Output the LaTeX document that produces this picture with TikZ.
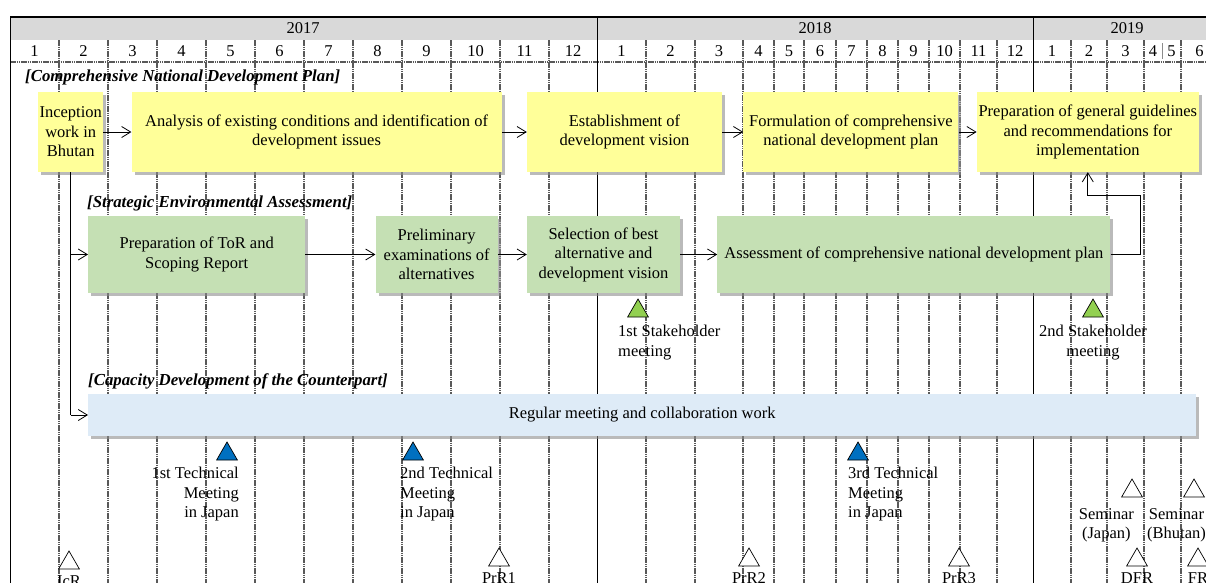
\documentclass[tikz,border=0pt]{standalone}
\usepackage{fontspec}
\setmainfont{Liberation Serif}
\usetikzlibrary{arrows.meta,positioning,shapes.geometric,shadows}

\definecolor{boxyellow}{HTML}{FFFF99}
\definecolor{boxgreen}{HTML}{C5E0B4}
\definecolor{boxblue}{HTML}{DEEBF7}
\definecolor{hdgray}{HTML}{D9D9D9}
\definecolor{trigreen}{HTML}{92D050}
\definecolor{triblue}{HTML}{0070C0}

\begin{document}
\begin{tikzpicture}[
    x=1pt, y=-1pt,
    every node/.style={font=\fontsize{16.5}{19.5}\selectfont},
    mline/.style={draw=black!65, line width=1.4pt, dash pattern=on 1.6pt off 0.6pt},
    yline/.style={draw=black, line width=1pt},
    sect/.style={anchor=west, inner sep=0pt, font=\fontsize{16.8}{19.5}\selectfont\bfseries\itshape},
    task/.style={rectangle, align=center, inner xsep=1pt, minimum height=80pt,
        drop shadow={shadow xshift=3pt, shadow yshift=-3pt, fill=black!45, opacity=0.6}},
    plan/.style={task, fill=boxyellow},
    sea/.style={task, fill=boxgreen, minimum height=77pt},
    capbox/.style={task, fill=boxblue, minimum height=42pt},
    tri/.style={regular polygon, regular polygon sides=3, minimum size=24pt, inner sep=0pt, outer sep=0pt, draw=black, line width=0.7pt},
    tlab/.style={inner sep=0pt},
    arr/.style={-{Straight Barb[length=9pt, width=11pt]}, line width=0.8pt},
]
    \path[use as bounding box, clip] (0,0) rectangle (1206,582);

    % time axis
    \fill[hdgray] (10,17) rectangle (1240,40);
    \foreach \x in {59,108,157,206,255,304,353,402,451,500,549,646,695,743,774,804,836,867,898,929,960,997,1071,1107,1144,1181,1218}
        \draw[mline] (\x,40) -- (\x,600);
    \draw[mline] (10,62) -- (1240,62);
    \draw[black!45, line width=1pt] (1162,43) -- (1162,59);
    \draw[yline] (597,17) -- (597,600);
    \draw[yline] (1033,17) -- (1033,600);
    \draw[yline] (10,17) -- (10,600);
    \draw[line width=1.6pt] (10,17) -- (1240,17);

    \node (y17) at (303,28.5) {2017};
    \node (y18) at (815,28.5) {2018};
    \node (y19) at (1127,28.5) {2019};
    \foreach \x/\m [count=\i] in {34.5/1,83.5/2,132.5/3,181.5/4,230.5/5,279.5/6,328.5/7,377.5/8,426.5/9,475.5/10,524.5/11,573/12,
            621.5/1,670.5/2,719/3,758.5/4,789/5,820/6,851.5/7,882.5/8,913.5/9,944.5/10,978.5/11,1015/12,
            1052/1,1089/2,1125.5/3,1153/4,1171.5/5,1199.5/6}
        \node[inner sep=0pt] (mon\i) at (\x,51.5) {\m};

    % comprehensive national development plan
    \node[sect] (s1) at (25,77) {[Comprehensive National Development Plan]};
    \node[plan, minimum width=65pt, anchor=west] (incep) at (38,132) {Inception\\work in\\Bhutan};
    \node[plan, minimum width=370pt, right=28pt of incep] (anal) {Analysis of existing conditions and identification of\\development issues};
    \node[plan, minimum width=195pt, right=25pt of anal] (estab) {Establishment of\\development vision};
    \node[plan, minimum width=215pt, right=21pt of estab] (form) {Formulation of comprehensive\\national development plan};
    \node[plan, minimum width=222pt, right=18pt of form] (guide) {Preparation of general guidelines\\and recommendations for\\implementation};
    \draw[arr] (incep) -- (anal);
    \draw[arr] (anal) -- (estab);
    \draw[arr] (estab) -- (form);
    \draw[arr] (form) -- (guide);

    % strategic environmental assessment
    \node[sect] (s2) at (87,203) {[Strategic Environmental Assessment]};
    \node[sea, minimum width=217pt, anchor=west] (tor) at (88,254.5) {Preparation of ToR and\\Scoping Report};
    \node[sea, minimum width=122pt, right=70pt of tor] (prelim) {Preliminary\\examinations of\\alternatives};
    \node[sea, minimum width=153pt, right=29pt of prelim] (select) {Selection of best\\alternative and\\development vision};
    \node[sea, minimum width=393pt, right=37pt of select] (assess) {Assessment of comprehensive national development plan};
    \draw[arr] (tor) -- (prelim);
    \draw[arr] (prelim) -- (select);
    \draw[arr] (select) -- (assess);
    \draw[arr] (assess.east) -- ++(30,0) |- ([yshift=-23pt]guide.south) -- (guide.south);

    \node[tri, fill=trigreen] (stk1) at (638,311) {};
    \node[tri, fill=trigreen] (stk2) at (1093,311) {};
    \node[tlab, align=left, below right=8pt and -20pt of stk1.south] (stk1l) {1st Stakeholder\\meeting};
    \node[tlab, align=center, below=8pt of stk2.south] (stk2l) {2nd Stakeholder\\meeting};

    % capacity development
    \node[sect] (s3) at (88,381) {[Capacity Development of the Counterpart]};
    \node[capbox, minimum width=1108pt, anchor=west] (reg) at (88,415) {Regular meeting and collaboration work};
    \draw[line width=0.8pt] (incep.south) -- (incep.south |- reg.west);
    \draw[arr] (incep.south |- tor.west) -- (tor.west);
    \draw[arr] (incep.south |- reg.west) -- (reg.west);

    \node[tri, fill=triblue] (tec1) at (227,454) {};
    \node[tri, fill=triblue] (tec2) at (413,454) {};
    \node[tri, fill=triblue] (tec3) at (858,454) {};
    \node[tlab, align=right, below left=7pt and -12pt of tec1.south] (tec1l) {1st Technical\\Meeting\\in Japan};
    \node[tlab, align=left, below right=7pt and -13pt of tec2.south] (tec2l) {2nd Technical\\Meeting\\in Japan};
    \node[tlab, align=left, below right=7pt and -10pt of tec3.south] (tec3l) {3rd Technical\\Meeting\\in Japan};

    % seminars and reports
    \node[tri, fill=white] (semj) at (1132,491) {};
    \node[tri, fill=white] (semb) at (1194,491) {};
    \node[tlab, align=center, below left=11pt and -2pt of semj.south] (semjl) {Seminar\\(Japan)};
    \node[tlab, align=center, below left=11pt and -12pt of semb.south] (sembl) {Seminar\\(Bhutan)};

    \node[tri, fill=white] (icr) at (69,563) {};
    \node[tri, fill=white] (prr1) at (499,560) {};
    \node[tri, fill=white] (prr2) at (749,560) {};
    \node[tri, fill=white] (prr3) at (959,560) {};
    \node[tri, fill=white] (dfr) at (1137,560) {};
    \node[tri, fill=white] (fr) at (1198,560) {};
    \node[tlab, below=6pt of icr.south] (icrl) {IcR};
    \node[tlab, below=6pt of prr1.south] (prr1l) {PrR1};
    \node[tlab, below=6pt of prr2.south] (prr2l) {PrR2};
    \node[tlab, below=6pt of prr3.south] (prr3l) {PrR3};
    \node[tlab, below=6pt of dfr.south] (dfrl) {DFR};
    \node[tlab, below=6pt of fr.south] (frl) {FR};
\end{tikzpicture}
\end{document}
